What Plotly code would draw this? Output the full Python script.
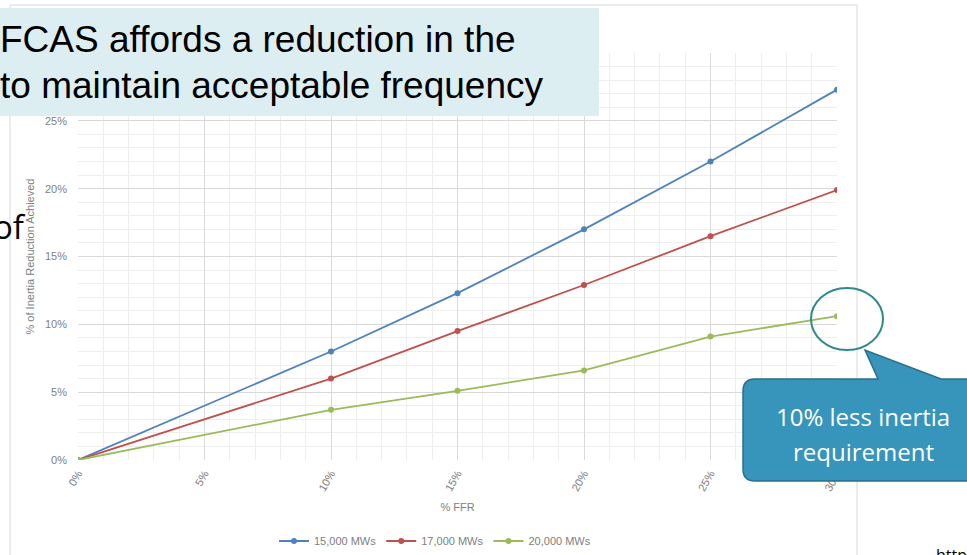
import plotly.graph_objects as go

# FFR share of the frequency response (x) and inertia reduction achieved (y)
ffr_share = [0.00, 0.10, 0.15, 0.20, 0.25, 0.30]
series_names = ["15,000 MWs", "17,000 MWs", "20,000 MWs"]
reduction_15000 = [0.000, 0.080, 0.123, 0.170, 0.220, 0.273]
reduction_17000 = [0.000, 0.060, 0.095, 0.129, 0.165, 0.199]
reduction_20000 = [0.000, 0.037, 0.051, 0.066, 0.091, 0.106]
series_colors = ["#4F81BD", "#C0504D", "#9BBB59"]

W, H = 967, 555
L, R, T, B = 78, 837, 53, 460


def px_x(p):
    return (p - L) / (R - L)


def px_y(p):
    return (B - p) / (B - T)


fig = go.Figure()
for name, vals, col in zip(series_names,
                           [reduction_15000, reduction_17000, reduction_20000],
                           series_colors):
    fig.add_trace(go.Scatter(
        x=ffr_share, y=vals, name=name, mode="lines+markers",
        line=dict(color=col, width=1.8),
        marker=dict(color=col, size=6),
    ))

grid_major = "#d9d9d9"
grid_minor = "#eeeeee"
tick_font = dict(family="Liberation Sans, Arial", size=11, color="#808080")

fig.update_xaxes(
    range=[0, 0.30], dtick=0.05, tick0=0, tickformat=".0%", tickangle=-60,
    showgrid=True, gridcolor=grid_major, gridwidth=1, zeroline=False,
    showline=False, ticks="", tickfont=tick_font, automargin=False,
    ticklabelstandoff=4,
    minor=dict(dtick=0.01, showgrid=True, gridcolor=grid_minor, gridwidth=1),
    title=dict(text="% FFR", font=tick_font, standoff=10),
)
fig.update_yaxes(
    range=[0, 0.30], dtick=0.05, tick0=0, tickformat=".0%",
    showgrid=True, gridcolor=grid_major, gridwidth=1, zeroline=False,
    showline=False, ticks="", tickfont=tick_font, ticklabelstandoff=10,
    automargin=False,
    minor=dict(dtick=0.01, showgrid=True, gridcolor=grid_minor, gridwidth=1),
    title=dict(text="% of Inertia Reduction Achieved", font=tick_font, standoff=8),
)

shapes = [
    # outer border of the chart object
    dict(type="rect", xref="paper", yref="paper",
         x0=px_x(10), x1=px_x(857), y0=px_y(5), y1=px_y(575),
         line=dict(color="#d9d9d9", width=1), fillcolor="rgba(0,0,0,0)",
         layer="below"),
    # heading text box
    dict(type="rect", xref="paper", yref="paper",
         x0=px_x(-5), x1=px_x(599), y0=px_y(8), y1=px_y(116),
         line=dict(width=0), fillcolor="#DDEEF2", layer="above"),
    # highlight circle around the last 20,000 MW point
    dict(type="circle", xref="paper", yref="paper",
         x0=px_x(811), x1=px_x(883), y0=px_y(288), y1=px_y(350),
         line=dict(color="#2F8A8C", width=2), fillcolor="rgba(0,0,0,0)",
         layer="above"),
]


def P(px, py):
    return f"{px_x(px):.5f},{px_y(py):.5f}"


# callout bubble with a pointer towards the circle
r = 12
x0c, x1c, y0c, y1c = 743, 980, 379, 481
path = (
    f"M {P(x0c + r, y0c)} L {P(878, y0c)} L {P(865, 350)} L {P(941, y0c)} "
    f"L {P(x1c, y0c)} L {P(x1c, y1c)} L {P(x0c + r, y1c)} "
    f"Q {P(x0c, y1c)} {P(x0c, y1c - r)} L {P(x0c, y0c + r)} "
    f"Q {P(x0c, y0c)} {P(x0c + r, y0c)} Z"
)
shapes.append(dict(type="path", xref="paper", yref="paper", path=path,
                   fillcolor="#3794BB", line=dict(color="#2B6F8F", width=1.5),
                   layer="above"))

fig.update_layout(shapes=shapes)

slide_font = "Open Sans, Lato, sans-serif"
heading_font = dict(family="Liberation Sans, Arial", size=37, color="#000000")
annotations = [
    dict(text="FCAS affords a reduction in the", x=px_x(-2), y=px_y(40),
         xanchor="left", yanchor="middle", font=heading_font),
    dict(text="to maintain acceptable frequency", x=px_x(-2), y=px_y(85),
         xanchor="left", yanchor="middle", font=heading_font),
    dict(text="of", x=px_x(28), y=px_y(226), xanchor="right", yanchor="middle",
         font=dict(family=slide_font, size=33, color="#000000")),
    dict(text="10% less inertia", x=px_x(863), y=px_y(416),
         xanchor="center", yanchor="middle",
         font=dict(family=slide_font, size=24, color="#ffffff")),
    dict(text="requirement", x=px_x(863), y=px_y(451),
         xanchor="center", yanchor="middle",
         font=dict(family=slide_font, size=24, color="#ffffff")),
    dict(text="http", x=px_x(934), y=px_y(542), xanchor="left", yanchor="top",
         font=dict(family=slide_font, size=16, color="#000000")),
]
for a in annotations:
    a.update(xref="paper", yref="paper", showarrow=False)
fig.update_layout(annotations=annotations)

fig.update_layout(
    width=W, height=H,
    margin=dict(l=L, r=W - R, t=T, b=H - B),
    paper_bgcolor="#ffffff", plot_bgcolor="#ffffff",
    showlegend=True,
    legend=dict(orientation="h", x=(435 / W), xref="container", xanchor="center",
                y=1 - 541 / H, yref="container", yanchor="middle",
                font=dict(family="Liberation Sans, Arial", size=11, color="#808080"),
                itemwidth=30, tracegroupgap=0, bgcolor="rgba(0,0,0,0)"),
)

fig.write_html("out.html")
